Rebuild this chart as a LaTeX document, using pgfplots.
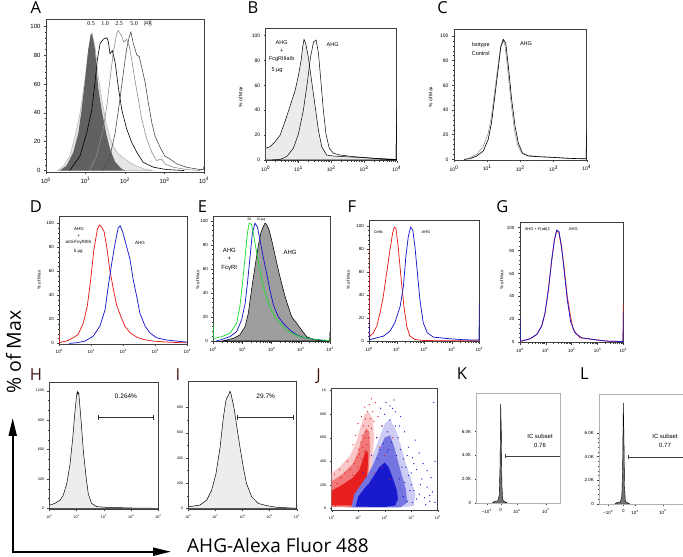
\documentclass[border=0pt]{standalone}
\usepackage{pgfplots}
\pgfplotsset{compat=1.18}
\usepackage{fontspec}
\setmainfont{Liberation Sans}
\newfontfamily\osans{Open Sans}
\newfontfamily\lserif{Liberation Serif}
\usetikzlibrary{arrows.meta}
\newcommand{\fs}[1]{\fontsize{#1}{#1}\selectfont}
\definecolor{myred}{RGB}{230,30,30}
\definecolor{myblue}{RGB}{25,25,205}
\definecolor{mygreen}{RGB}{30,220,50}
\pgfplotsset{
  panel/.style={scale only axis, anchor=south west,
    axis line style={black!75, line width=0.45pt},
    tick style={black!75, line width=0.4pt},
    tick align=outside, xtick pos=bottom, ytick pos=left,
    major tick length=2pt, minor tick length=1.1pt,
    scaled ticks=false,
    /pgf/number format/assume math mode=true,
    /pgf/number format/1000 sep={},
    tick label style={font=\fs{5}}},
  logx/.style={xmin=0, xmax=4, xtick={0,1,2,3,4},
    xticklabels={10\textsuperscript{0},10\textsuperscript{1},10\textsuperscript{2},10\textsuperscript{3},10\textsuperscript{4}},
    minor xtick={0.301,0.477,0.602,0.699,0.778,0.845,0.903,0.954,1.301,1.477,1.602,1.699,1.778,1.845,1.903,1.954,2.301,2.477,2.602,2.699,2.778,2.845,2.903,2.954,3.301,3.477,3.602,3.699,3.778,3.845,3.903,3.954}},
  pct/.style={ytick={0,20,40,60,80,100}, minor y tick num=4},
  col/.style={line width=0.75pt}
}
\newcommand{\T}[4][]{\node[inner sep=0pt,#1] at (#2,{557-#3}) {#4};}
\begin{document}
\begin{tikzpicture}[x=1pt,y=1pt]
\useasboundingbox (0,0) rectangle (683,557);

% ---------------- A
\begin{axis}[panel, logx, pct, at={(46pt,385pt)}, width=158pt, height=153pt, ymin=-1, ymax=105, tick label style={font=\fs{6}}]
\addplot[fill=black!10, draw=black!30, line width=0.5pt] coordinates {(0.3,0)(0.44,3)(0.6,10)(0.72,22)(0.85,38)(0.97,60)(1.08,84)(1.14,94)(1.17,95)(1.24,86)(1.32,66)(1.42,48)(1.53,32)(1.63,22)(1.72,16)(1.82,12)(1.95,9)(2.1,6)(2.3,3)(2.5,1)(2.7,0)} \closedcycle;
\addplot[fill=black!62, draw=none] coordinates {(0.35,0)(0.52,3.4)(0.69,12.6)(0.82,26)(0.9,42)(0.99,63)(1.07,84)(1.13,94)(1.16,95)(1.2,90)(1.24,84)(1.32,58)(1.41,42)(1.52,26)(1.62,15)(1.75,6)(1.92,1)(2.0,0)} \closedcycle;
\addplot[black, line width=0.6pt] coordinates {(0.6,0)(0.86,10)(1.03,26)(1.16,42)(1.24,61)(1.3,77)(1.37,88)(1.45,91)(1.54,92)(1.58,89)(1.62,81)(1.68,83)(1.75,75)(1.83,58)(1.92,42)(2.04,29)(2.17,19.5)(2.3,12.6)(2.46,5.7)(2.72,2.3)(3.05,0.7)(3.5,0)};
\addplot[black!45, line width=0.6pt] coordinates {(1.1,0)(1.28,10)(1.45,29)(1.54,45)(1.62,63)(1.7,81)(1.79,95)(1.83,97)(1.92,93)(1.97,89)(2.04,91)(2.11,86)(2.17,77)(2.25,63)(2.34,49)(2.42,36)(2.55,22)(2.68,12.6)(2.8,7)(2.93,8)(3.01,4.6)(3.22,2.3)(3.56,0.7)(3.9,0)};
\addplot[black!70, line width=0.6pt] coordinates {(1.45,0)(1.62,10)(1.75,26)(1.85,45)(1.96,68)(2.04,84)(2.11,93)(2.15,96)(2.21,88)(2.3,80)(2.36,79)(2.42,72)(2.51,61)(2.59,47)(2.68,33)(2.76,24)(2.89,16)(3.01,10)(3.14,8)(3.31,4.6)(3.56,2.3)(3.9,0.7)(3.98,0.7)(4,3)};
\addplot[black!60, line width=0.6pt] coordinates {(0,3)(0.02,0)};
\end{axis}

% ---------------- B
\begin{axis}[panel, logx, pct, at={(265.7pt,396.3pt)}, width=131pt, height=132pt, ymin=-0.56, ymax=105.6]
\addplot[fill=black!8, draw=black, line width=0.5pt] coordinates {(0,0)(0,9.4)(0.13,10.7)(0.285,14.7)(0.44,20)(0.59,31)(0.74,43)(0.9,56)(1.0,68)(1.08,80)(1.13,91)(1.17,97)(1.22,94)(1.3,83)(1.4,64)(1.51,43)(1.61,24)(1.71,10.7)(1.86,4)(2.07,3.2)(2.37,2.7)(2.88,2.1)(3.49,1)(3.9,0.5)(3.98,0.5)(4,43)(4,0)} \closedcycle;
\addplot[black, line width=0.5pt] coordinates {(0.2,0)(0.44,0.5)(0.64,2.7)(0.845,9.4)(1.0,21)(1.15,40)(1.27,62)(1.37,83)(1.46,95)(1.54,96.5)(1.61,86)(1.69,62)(1.76,40)(1.84,21)(1.94,9.4)(2.07,5.4)(2.27,4)(2.68,2.7)(3.19,1.6)(3.69,0.8)(3.98,0.5)(4,40)};
\end{axis}

% ---------------- C
\begin{axis}[panel, logx, pct, at={(454pt,397pt)}, width=132.7pt, height=131pt, ymin=-0.5, ymax=105.6]
\addplot[black!45, line width=0.5pt] coordinates {(0.3,0)(0.48,1.3)(0.68,4)(0.88,10.7)(1.03,21)(1.13,35)(1.23,56)(1.34,79)(1.41,92)(1.47,97)(1.54,92)(1.62,72)(1.72,45.6)(1.82,24)(1.92,11)(2.04,5.4)(2.24,3.2)(2.6,2.2)(3.0,1.6)(3.5,0.8)(3.9,0.5)};
\addplot[black, line width=0.6pt] coordinates {(0.3,0)(0.48,0.5)(0.68,2.7)(0.88,6.7)(1.03,16)(1.13,29.5)(1.23,51)(1.34,75)(1.41,91)(1.49,97)(1.56,94)(1.64,75)(1.74,48)(1.84,27)(1.94,13)(2.07,4.8)(2.24,2.7)(2.59,2.1)(2.99,1.6)(3.49,0.8)(3.9,0.5)(3.98,0.5)(4,23)};
\end{axis}

% ---------------- D
\begin{axis}[panel, logx, pct, at={(59.3pt,213pt)}, width=128pt, height=127.3pt, ymin=-0.5, ymax=105.5, tick label style={font=\fs{4.5}}]
\addplot[myred, col] coordinates {(0,10)(0.01,0.5)(0.07,1.1)(0.23,2)(0.44,4.7)(0.59,7.5)(0.75,17)(0.875,31)(0.98,53)(1.08,78)(1.19,95)(1.25,98.6)(1.32,97)(1.4,93)(1.48,80.7)(1.58,61)(1.69,45)(1.79,32)(1.92,22.6)(2.05,14.4)(2.21,8.8)(2.42,5.2)(2.625,3.3)(2.94,1.9)(3.35,1.1)(3.875,0.5)(4,0.5)};
\addplot[myblue, col] coordinates {(0.3,0)(0.54,0.5)(0.8,1.9)(1.06,6)(1.27,14.4)(1.43,28)(1.53,47.5)(1.64,67)(1.74,83)(1.84,96)(1.9,98)(1.98,93)(2.08,83)(2.21,70)(2.31,53)(2.42,39)(2.52,25)(2.68,14.4)(2.83,8.8)(3.04,4.7)(3.35,2.8)(3.67,1.9)(3.98,1.1)(4,1.1)};
\end{axis}

% ---------------- E
\begin{axis}[panel, logx, pct, at={(213.3pt,215.3pt)}, width=116.7pt, height=125.7pt, ymin=-0.6, ymax=104, tick label style={font=\fs{4.5}}]
\addplot[fill=black!38, draw=black, line width=0.55pt] coordinates {(0.3,0)(0.46,0.8)(0.69,2.2)(0.91,5)(1.09,12)(1.2,23)(1.31,42.5)(1.43,62)(1.54,79)(1.63,90)(1.71,95)(1.77,98)(1.83,97)(1.91,92.5)(2.0,84)(2.11,72)(2.23,59)(2.34,48)(2.46,37)(2.57,28.6)(2.69,20)(2.86,14.7)(3.03,9)(3.2,3.6)(3.43,1.4)(3.66,0.6)(3.94,0.3)(3.99,0.3)(4,7.8)(4,0)} \closedcycle;
\addplot[myblue, col] coordinates {(0.1,0)(0.23,0.8)(0.57,3.6)(0.8,7.8)(0.97,17.5)(1.09,31)(1.17,48)(1.26,70)(1.34,90)(1.43,98)(1.51,95)(1.6,84)(1.71,70)(1.83,56)(1.94,42.5)(2.06,30)(2.23,20)(2.4,14.7)(2.63,9)(2.86,5)(3.09,2.8)(3.43,1.4)(3.77,0.6)(4,0.3)};
\addplot[mygreen, col] coordinates {(0,15)(0.01,2.2)(0.06,2.2)(0.29,3.6)(0.57,6.4)(0.8,14.7)(0.91,28.6)(1.0,48)(1.09,70)(1.17,90)(1.23,98)(1.31,97)(1.39,87)(1.49,73)(1.6,59)(1.71,45)(1.83,35.5)(1.97,27)(2.11,20)(2.29,14.7)(2.51,9)(2.74,5.8)(2.97,3.6)(3.31,2)(3.66,0.8)(4,0.3)};
\end{axis}

% ---------------- F
\begin{axis}[panel, logx, pct, at={(369.3pt,215.3pt)}, width=110pt, height=121pt, ymin=-0.5, ymax=104.6, tick label style={font=\fs{4.5}}]
\addplot[myred, col] coordinates {(0,82)(0.01,4.3)(0.02,4.3)(0.15,7.2)(0.27,13)(0.39,24.5)(0.51,39)(0.63,59)(0.75,79)(0.85,94)(0.91,99)(0.97,98)(1.05,82)(1.15,56)(1.26,30)(1.36,13)(1.48,4.3)(1.66,1.4)(1.96,0.6)(2.57,0.3)(4,0.3)};
\addplot[myblue, col] coordinates {(0,20)(0.01,1)(0.05,1.4)(0.27,2.9)(0.51,4.3)(0.75,8.6)(0.93,16)(1.12,30)(1.24,47.5)(1.33,73.5)(1.42,91)(1.5,99)(1.58,96.5)(1.66,82)(1.75,59)(1.84,36)(1.96,16)(2.11,7.2)(2.33,3.5)(2.81,2.3)(3.3,1.4)(3.78,0.9)(3.99,0.9)(4,33)};
\end{axis}

% ---------------- G
\begin{axis}[panel, logx, pct, at={(520pt,214.3pt)}, width=103.3pt, height=120.4pt, ymin=-0.5, ymax=104.7, tick label style={font=\fs{4.5}}]
\addplot[myred, col] coordinates {(0,0.5)(0.06,0.9)(0.39,2.9)(0.65,6.7)(0.84,14)(0.97,25.5)(1.1,46)(1.23,72)(1.33,89)(1.42,97)(1.5,96)(1.61,82)(1.72,63)(1.83,40)(1.96,22)(2.06,11)(2.32,3.8)(2.84,2.3)(3.35,0.9)(3.87,0.6)(3.99,0.6)(4,33)};
\addplot[myblue, col] coordinates {(0,21)(0.01,0.9)(0.06,0.9)(0.39,2.9)(0.65,6.7)(0.84,14)(0.97,25.5)(1.1,46)(1.23,72)(1.33,89)(1.42,98)(1.51,96.5)(1.61,83.5)(1.72,60)(1.83,37)(1.96,18)(2.13,8)(2.39,3.8)(2.84,2.3)(3.35,0.9)(3.87,0.6)(3.99,0.6)(4,25.5)};
\end{axis}

% ---------------- H
\begin{axis}[panel, logx, at={(49.3pt,47.7pt)}, width=109pt, height=126.6pt, ymin=-10, ymax=1282, ytick={0,300,600,900,1200}, minor y tick num=2, tick label style={font=\fs{3.6}}]
\addplot[fill=black!7, draw=black, line width=0.5pt] coordinates {(0,0)(0,30)(0.02,33)(0.2,50)(0.39,83)(0.51,133)(0.64,250)(0.76,450)(0.86,717)(0.94,983)(1.0,1150)(1.03,1190)(1.05,1167)(1.08,1180)(1.1,1117)(1.16,917)(1.25,583)(1.35,317)(1.43,150)(1.55,50)(1.74,17)(2.1,10)(3.08,3)(4,0)} \closedcycle;
\addplot[black!80, line width=0.6pt] coordinates {(1.8,927)(3.82,927)};
\addplot[black!80, line width=0.6pt] coordinates {(1.8,900)(1.8,954)};
\addplot[black!80, line width=0.6pt] coordinates {(3.82,900)(3.82,954)};
\end{axis}

% ---------------- I
\begin{axis}[panel, logx, at={(188.3pt,47.7pt)}, width=108.4pt, height=128.3pt, ymin=-8, ymax=1011, ytick={0,200,400,600,800}, minor y tick num=1, tick label style={font=\fs{3.6}}]
\addplot[fill=black!7, draw=black, line width=0.5pt] coordinates {(0,0)(0.01,13)(0.06,13)(0.43,26)(0.68,65)(0.86,143)(1.02,273)(1.17,481)(1.29,715)(1.39,858)(1.43,880)(1.48,897)(1.54,930)(1.57,915)(1.6,884)(1.69,793)(1.78,663)(1.91,481)(2.03,325)(2.15,195)(2.34,91)(2.58,39)(2.89,21)(3.26,8)(3.75,3)(4,0)} \closedcycle;
\addplot[black!80, line width=0.6pt] coordinates {(1.81,723)(3.87,723)};
\addplot[black!80, line width=0.6pt] coordinates {(1.81,702)(1.81,744)};
\addplot[black!80, line width=0.6pt] coordinates {(3.87,702)(3.87,744)};
\end{axis}

% ---------------- J
\begin{axis}[panel, logx, at={(331.7pt,47pt)}, width=106pt, height=121.7pt, ymin=-14, ymax=1020, ytick={0,200,400,600,800,1000}, yticklabels={0,200,400,600,800,1K}, minor y tick num=3, tick label style={font=\fs{3.6}}]
\addplot[fill=myblue!22, draw=none] coordinates {(0.6,5)(0.7,150)(1.0,230)(1.3,330)(1.55,450)(1.8,600)(2.0,720)(2.2,760)(2.45,650)(2.65,500)(2.8,380)(3.0,250)(3.15,120)(3.1,20)(2.5,5)(0.6,5)};
\addplot[fill=myred!25, draw=none] coordinates {(0,10)(0,300)(0.3,350)(0.7,450)(0.95,580)(1.1,700)(1.25,800)(1.4,820)(1.55,760)(1.6,600)(1.55,450)(1.5,300)(1.45,150)(1.4,40)(1.2,8)(0,10)};
\addplot[fill=myred!60, draw=none] coordinates {(0,15)(0,230)(0.4,290)(0.8,380)(1.0,480)(1.15,600)(1.3,680)(1.42,650)(1.45,500)(1.4,350)(1.35,200)(1.3,70)(1.1,12)(0,15)};
\addplot[fill=myred, draw=none] coordinates {(0,25)(0,150)(0.4,200)(0.8,260)(1.05,330)(1.2,430)(1.3,500)(1.38,460)(1.35,320)(1.28,180)(1.2,80)(1.0,25)(0,25)};
\addplot[only marks, mark=*, mark size=0.35pt, myred] coordinates {(0.05,60)(0.1,150)(0.15,90)(0.2,210)(0.3,40)(0.35,260)(0.4,170)(0.5,300)(0.55,120)(0.6,230)(0.7,330)(0.75,60)(0.8,280)(0.85,380)(0.9,200)(0.95,430)(1.0,350)(1.02,500)(1.05,460)(1.1,560)(1.12,420)(1.15,620)(1.18,520)(1.2,700)(1.22,480)(1.25,600)(1.28,760)(1.3,650)(1.32,540)(1.35,820)(1.38,700)(1.4,600)(1.42,880)(1.45,760)(1.5,680)(1.55,820)(1.6,740)(1.65,900)(1.7,600)(1.75,780)(1.8,520)(1.9,700)(2.0,450)(0.15,20)(0.25,120)(0.45,70)(0.65,160)(1.1,250)(1.6,300)(1.9,350)(2.2,250)(2.3,600)(0.9,620)(0.8,540)(1.0,720)(1.5,930)(0.6,400)(0.3,330)(0.1,290)(1.25,860)(1.12,780)};
\addplot[fill=myblue!60, draw=none] coordinates {(0.75,10)(0.85,120)(1.1,200)(1.35,280)(1.6,390)(1.8,500)(2.0,600)(2.2,620)(2.35,530)(2.5,400)(2.65,280)(2.8,160)(2.85,50)(2.6,10)(0.75,10)};
\addplot[fill=myblue, draw=none] coordinates {(0.9,15)(1.0,100)(1.2,160)(1.4,210)(1.6,280)(1.8,350)(2.0,390)(2.15,350)(2.3,260)(2.45,160)(2.5,80)(2.4,25)(2.0,12)(0.9,15)};
\addplot[only marks, mark=*, mark size=0.35pt, myblue] coordinates {(1.2,300)(1.5,450)(1.7,600)(1.9,700)(2.0,800)(2.1,650)(2.2,750)(2.3,850)(2.4,700)(2.5,600)(2.6,500)(2.7,420)(2.8,350)(2.9,280)(3.0,200)(3.1,150)(3.2,330)(3.3,120)(3.4,250)(3.5,90)(3.6,180)(3.7,60)(3.8,140)(3.9,50)(2.05,900)(1.85,850)(2.35,920)(2.6,780)(2.75,650)(2.9,520)(3.05,430)(3.15,580)(3.3,470)(3.45,380)(3.6,320)(3.75,260)(3.9,400)(2.45,450)(2.65,350)(2.95,150)(3.2,80)(3.55,30)(2.85,60)(1.8,500)(1.95,550)(2.15,500)(2.55,250)(2.75,220)(3.0,300)(3.35,200)(3.7,110)(3.85,900)(1.6,180)(2.7,100)(3.05,50)(2.25,560)(2.1,480)(1.75,420)(2.4,820)(2.55,700)(2.85,450)(3.1,380)(2.2,870)};
\end{axis}

% ---------------- K
\begin{axis}[panel, at={(476.7pt,53.7pt)}, width=83.3pt, height=110pt, xmin=-24, xmax=59.3, ymin=-50, ymax=9244,
  xtick={-14,0,16,45}, xticklabels={−10\textsuperscript{3},0,10\textsuperscript{3},10\textsuperscript{4}},
  minor xtick={-22,-20,-18,-16,-10,-6,4,7,9,11,13,14.5,25,30,34,37,39.5,41.5,43.5,54,58},
  ytick={0,2000,4000,6000}, yticklabels={0,2.0K,4.0K,6.0K}, minor y tick num=4,
  axis line style={black!30}, tick label style={font=\fs{4.5}}]
\addplot[fill=black!55, draw=black, line width=0.4pt] coordinates {(-8,0)(-7,80)(-5,120)(-3,150)(-1.5,600)(-0.7,3000)(0,8340)(0.6,6000)(1.2,1500)(2,300)(3,120)(5,60)(6,0)} \closedcycle;
\addplot[black!75, line width=0.6pt] coordinates {(5,3946)(60,3946)};
\addplot[black!75, line width=0.6pt] coordinates {(5,3780)(5,4110)};
\end{axis}

% ---------------- L
\begin{axis}[panel, at={(599.3pt,52.7pt)}, width=84.7pt, height=110.3pt, xmin=-24, xmax=60.7, ymin=-50, ymax=9320,
  xtick={-15,0,11.7,39.4}, xticklabels={−10\textsuperscript{3},0,10\textsuperscript{3},10\textsuperscript{4}},
  minor xtick={-22,-20,-18,-17,-10,-6,4,6,8,9.5,10.5,20,26,30,33,35,36.5,38,50,56},
  ytick={0,2000,4000,6000}, yticklabels={0,2.0K,4.0K,6.0K}, minor y tick num=4,
  axis line style={black!30}, tick label style={font=\fs{4.5}}]
\addplot[fill=black!55, draw=black, line width=0.4pt] coordinates {(-8,0)(-7,80)(-5,120)(-3,150)(-1.5,600)(-0.7,3000)(0,8560)(0.6,6000)(1.2,1500)(2,300)(3,120)(5,60)(6,0)} \closedcycle;
\addplot[black!75, line width=0.6pt] coordinates {(5.4,3946)(62,3946)};
\addplot[black!75, line width=0.6pt] coordinates {(5.4,3780)(5.4,4110)};
\end{axis}

% ---------------- texts
\T[font=\lserif\fs{6}]{91}{24}{0.5}
\T[font=\lserif\fs{6}]{105}{24}{1.0}
\T[font=\lserif\fs{6}]{119}{24}{2.5}
\T[font=\lserif\fs{6}]{134}{24}{5.0}
\T[font=\lserif\fs{7}]{148}{23}{µg}

\T[font=\fs{5.5}]{281.7}{42.3}{AHG}
\T[font=\fs{5.5}]{281.7}{51}{+}
\T[font=\fs{5.5}]{281.7}{59}{FcgRIIIa/b}
\T[font=\fs{5.5}]{277}{70}{5 µg}
\T[font=\fs{5.5}]{332.7}{45}{AHG}

\T[font=\fs{5.5}]{480.7}{45}{Isotype}
\T[font=\fs{5.5}]{480.7}{53.3}{Control}
\T[font=\fs{5.5}]{526}{43.3}{AHG}

\T[font=\fs{4.5}]{79}{229}{AHG}
\T[font=\fs{4.5}]{79}{236}{+}
\T[font=\fs{4.5}]{78.3}{242.3}{anti-FcγRIIIb}
\T[font=\fs{4.5}]{78.3}{251.7}{5 µg}
\T[font=\fs{4.5}]{140}{242.7}{AHG}

\T[font=\fs{3.5}]{249.3}{219.5}{20}
\T[font=\fs{3.5}]{261}{219.5}{10 µg}
\T[font=\fs{6}]{229.3}{250}{AHG}
\T[font=\fs{6}]{229.3}{258.3}{+}
\T[font=\fs{6}]{229.3}{268}{FcγRI}
\T[font=\fs{6}]{290}{252.7}{AHG}

\T[font=\fs{4}]{378.3}{231.7}{Cells}
\T[font=\fs{4}]{426}{231.7}{AHG}
\T[font=\fs{4}]{537.3}{229}{AHG + F(ab)2}
\T[font=\fs{4}]{573.3}{229}{AHG}

\T[font=\fs{6.5}]{126}{396}{0.264\%}
\T[font=\fs{6.5}]{265.7}{396}{29.7\%}
\T[font=\fs{6}]{540}{436.7}{IC subset}
\T[font=\fs{6}]{540}{445.7}{0.76}
\T[font=\fs{6}]{665}{436.7}{IC subset}
\T[font=\fs{6}]{665}{445.7}{0.77}

% y labels
\T[font=\fs{5}, rotate=90]{240.7}{97}{\% of Max}
\T[font=\fs{5}, rotate=90]{430.7}{97}{\% of Max}
\T[font=\fs{4.5}, rotate=90]{39}{280}{\% of Max}
\T[font=\fs{4.5}, rotate=90]{197.7}{280}{\% of Max}
\T[font=\fs{4.5}, rotate=90]{348.3}{280}{\% of Max}
\T[font=\fs{4.5}, rotate=90]{501.7}{280}{\% of Max}

% panel letters
\T[anchor=base, font=\osans\fs{16.5}]{35.8}{13.3}{A}
\T[anchor=base, font=\osans\fs{16.5}]{253}{13.3}{B}
\T[anchor=base, font=\osans\fs{16.5}]{442.5}{13.3}{C}
\T[anchor=base, font=\osans\fs{16.5}]{35.8}{212.7}{D}
\T[anchor=base, font=\osans\fs{16.5}]{202.5}{212.7}{E}
\T[anchor=base, font=\osans\fs{16.5}]{352}{213}{F}
\T[anchor=base, font=\osans\fs{16.5}]{502.5}{213}{G}
\T[anchor=base, font=\osans\fs{16.5}, text={rgb,255:red,70;green,25;blue,25}]{36}{381}{H}
\T[anchor=base, font=\osans\fs{16.5}, text={rgb,255:red,70;green,25;blue,25}]{178}{381}{I}
\T[anchor=base, font=\osans\fs{16.5}, text={rgb,255:red,70;green,25;blue,25}]{318.5}{381}{J}
\T[anchor=base, font=\osans\fs{16.5}]{462}{380}{K}
\T[anchor=base, font=\osans\fs{16.5}]{584.5}{380}{L}

% big axes
\draw[line width=2pt, {Triangle[length=18pt,width=8pt]}-{Triangle[length=18pt,width=8pt]}] (12.7,{557-418}) -- (12.7,{557-551.7}) -- (171,{557-551.7});
\T[font=\osans\fs{19.5}, rotate=90]{13.5}{352}{\% of Max}
\T[anchor=base west, text depth=0pt, font=\osans\fs{19}]{187}{552.5}{AHG-Alexa Fluor 488}
\end{tikzpicture}
\end{document}
